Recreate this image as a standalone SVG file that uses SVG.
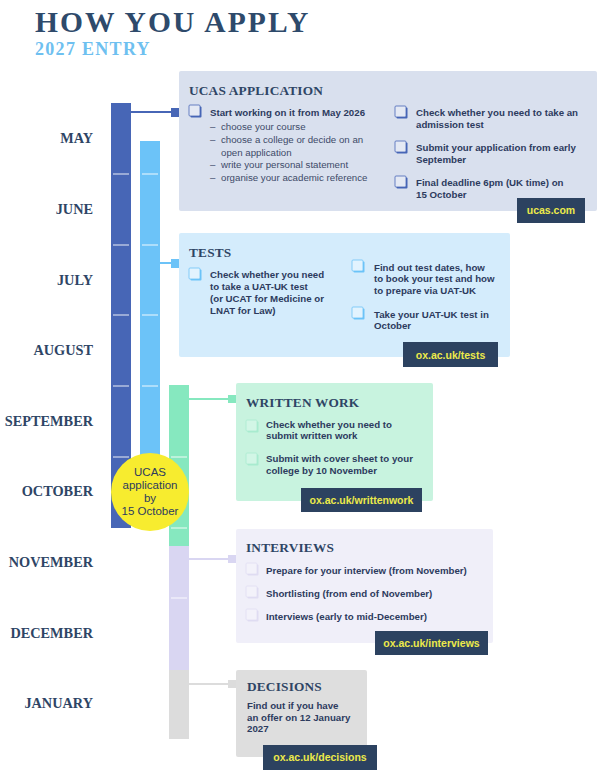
<svg xmlns="http://www.w3.org/2000/svg" width="602" height="777" viewBox="0 0 602 777">
<style>
.title{font-family:"Liberation Serif",serif;font-weight:bold;}
.month{font-family:"Liberation Serif",serif;font-weight:bold;font-size:14.3px;fill:#2e4565;text-anchor:end;}
.head{font-family:"Liberation Serif",serif;font-weight:bold;font-size:13.3px;fill:#2e4565;letter-spacing:0.2px;}
.b{font-family:"Liberation Sans",Arial,sans-serif;font-weight:bold;font-size:9.7px;fill:#2d3b5e;}
.r{font-family:"Liberation Sans",Arial,sans-serif;font-size:9.7px;fill:#3d4a68;}
.badge rect{fill:#2c4260;}
.badge text{font-family:"Liberation Sans",Arial,sans-serif;font-weight:bold;font-size:10.5px;fill:#ecea4a;text-anchor:middle;}
.tick{stroke:#ffffff;stroke-opacity:0.75;stroke-width:1.2;}
.circ{font-family:"Liberation Sans",Arial,sans-serif;font-size:11.5px;fill:#2d3b5e;text-anchor:middle;}
</style>

<g id="header">
<text class="title" x="35" y="32" font-size="29.5" fill="#2e4a6b" letter-spacing="2.1">HOW YOU APPLY</text>
<text class="title" x="35" y="55" font-size="18" fill="#6ec0f0" letter-spacing="1.3">2027 ENTRY</text>
</g>

<g id="months">
<text class="month" x="93" y="143">MAY</text>
<text class="month" x="93" y="214">JUNE</text>
<text class="month" x="93" y="285">JULY</text>
<text class="month" x="93" y="355">AUGUST</text>
<text class="month" x="93" y="426">SEPTEMBER</text>
<text class="month" x="93" y="496">OCTOBER</text>
<text class="month" x="93" y="567">NOVEMBER</text>
<text class="month" x="93" y="638">DECEMBER</text>
<text class="month" x="93" y="708">JANUARY</text>
</g>

<g id="bars">
<rect x="111" y="103" width="20" height="425" fill="#4766b6"/>
<rect x="140" y="141" width="20" height="350" fill="#6cc3f8"/>
<rect x="169" y="385" width="20" height="161" fill="#86e8bf"/>
<rect x="169" y="546" width="20" height="124" fill="#d9d6f2"/>
<rect x="169" y="670" width="20" height="69" fill="#dcdcdc"/>
<line class="tick" x1="113" y1="174" x2="129" y2="174"/>
<line class="tick" x1="113" y1="245" x2="129" y2="245"/>
<line class="tick" x1="113" y1="315" x2="129" y2="315"/>
<line class="tick" x1="113" y1="386" x2="129" y2="386"/>
<line class="tick" x1="113" y1="457" x2="129" y2="457"/>
<line class="tick" x1="142" y1="174" x2="158" y2="174"/>
<line class="tick" x1="142" y1="245" x2="158" y2="245"/>
<line class="tick" x1="142" y1="315" x2="158" y2="315"/>
<line class="tick" x1="142" y1="386" x2="158" y2="386"/>
<line class="tick" x1="171" y1="457" x2="187" y2="457"/>
<line class="tick" x1="171" y1="528" x2="187" y2="528"/>
<line class="tick" x1="171" y1="598" x2="187" y2="598"/>
</g>

<g id="connectors">
<line x1="131" y1="112" x2="172" y2="112" stroke="#4766b6" stroke-width="2"/>
<rect x="171" y="108" width="8" height="9" fill="#4766b6"/>
<line x1="160" y1="263" x2="172" y2="263" stroke="#6cc3f8" stroke-width="2"/>
<rect x="171" y="259" width="8" height="9" fill="#6cc3f8"/>
<line x1="189" y1="399" x2="229" y2="399" stroke="#86e8bf" stroke-width="2"/>
<rect x="228" y="395" width="8" height="8" fill="#86e8bf"/>
<line x1="189" y1="559" x2="229" y2="559" stroke="#d9d6f2" stroke-width="2"/>
<rect x="228" y="555" width="8" height="8" fill="#d9d6f2"/>
<line x1="189" y1="684" x2="229" y2="684" stroke="#dcdcdc" stroke-width="2"/>
<rect x="228" y="680" width="8" height="8" fill="#dcdcdc"/>
</g>

<g id="ucas">
<rect x="179" y="71" width="418" height="140" rx="2" fill="#d9e0ee"/>
<text class="head" x="189" y="95">UCAS APPLICATION</text>
<rect x="190.5" y="106.5" width="11" height="11" rx="1" fill="#4766b6"/>
<rect x="189" y="105" width="11" height="11" rx="1" fill="#e4e9f4" stroke="#4766b6" stroke-width="0.8"/>
<text class="b" x="210" y="116">Start working on it from May 2026</text>
<text class="r" x="210" y="130">–</text><text class="r" x="221" y="130">choose your course</text>
<text class="r" x="210" y="143">–</text><text class="r" x="221" y="143">choose a college or decide on an</text>
<text class="r" x="221" y="156">open application</text>
<text class="r" x="210" y="168">–</text><text class="r" x="221" y="168">write your personal statement</text>
<text class="r" x="210" y="181">–</text><text class="r" x="221" y="181">organise your academic reference</text>
<rect x="396.5" y="107.5" width="11" height="11" rx="1" fill="#4766b6"/>
<rect x="395" y="106" width="11" height="11" rx="1" fill="#e4e9f4" stroke="#4766b6" stroke-width="0.8"/>
<text class="b" x="416" y="116">Check whether you need to take an</text>
<text class="b" x="416" y="128">admission test</text>
<rect x="396.5" y="142.5" width="11" height="11" rx="1" fill="#4766b6"/>
<rect x="395" y="141" width="11" height="11" rx="1" fill="#e4e9f4" stroke="#4766b6" stroke-width="0.8"/>
<text class="b" x="416" y="151">Submit your application from early</text>
<text class="b" x="416" y="163">September</text>
<rect x="396.5" y="177.5" width="11" height="11" rx="1" fill="#4766b6"/>
<rect x="395" y="176" width="11" height="11" rx="1" fill="#e4e9f4" stroke="#4766b6" stroke-width="0.8"/>
<text class="b" x="416" y="186">Final deadline 6pm (UK time) on</text>
<text class="b" x="416" y="198">15 October</text>
<g class="badge"><rect x="517" y="198" width="68" height="25"/><text x="551" y="214">ucas.com</text></g>
</g>

<g id="tests">
<rect x="179" y="233" width="331" height="124" rx="2" fill="#d4ecfc"/>
<text class="head" x="189" y="257">TESTS</text>
<rect x="190.5" y="269.5" width="11" height="11" rx="1" fill="#6cc3f8"/>
<rect x="189" y="268" width="11" height="11" rx="1" fill="#e2f3fe" stroke="#6cc3f8" stroke-width="0.8"/>
<text class="b" x="210" y="278">Check whether you need</text>
<text class="b" x="210" y="290">to take a UAT-UK test</text>
<text class="b" x="210" y="302">(or UCAT for Medicine or</text>
<text class="b" x="210" y="314">LNAT for Law)</text>
<rect x="353.5" y="261.5" width="11" height="11" rx="1" fill="#6cc3f8"/>
<rect x="352" y="260" width="11" height="11" rx="1" fill="#e2f3fe" stroke="#6cc3f8" stroke-width="0.8"/>
<text class="b" x="374" y="271">Find out test dates, how</text>
<text class="b" x="374" y="282">to book your test and how</text>
<text class="b" x="374" y="294">to prepare via UAT-UK</text>
<rect x="353.5" y="308.5" width="11" height="11" rx="1" fill="#6cc3f8"/>
<rect x="352" y="307" width="11" height="11" rx="1" fill="#e2f3fe" stroke="#6cc3f8" stroke-width="0.8"/>
<text class="b" x="374" y="318">Take your UAT-UK test in</text>
<text class="b" x="374" y="329">October</text>
<g class="badge"><rect x="403" y="342" width="95" height="25"/><text x="450.5" y="359">ox.ac.uk/tests</text></g>
</g>

<g id="written-work">
<rect x="236" y="383" width="197" height="118" rx="2" fill="#c8f3df"/>
<text class="head" x="246" y="407">WRITTEN WORK</text>
<rect x="247.5" y="421.5" width="11" height="11" rx="1" fill="#a8ebcf"/>
<rect x="246" y="420" width="11" height="11" rx="1" fill="#d2f6e6" stroke="#a8ebcf" stroke-width="0.8"/>
<text class="b" x="266" y="428">Check whether you need to</text>
<text class="b" x="266" y="439">submit written work</text>
<rect x="247.5" y="454.5" width="11" height="11" rx="1" fill="#a8ebcf"/>
<rect x="246" y="453" width="11" height="11" rx="1" fill="#d2f6e6" stroke="#a8ebcf" stroke-width="0.8"/>
<text class="b" x="266" y="462">Submit with cover sheet to your</text>
<text class="b" x="266" y="474">college by 10 November</text>
<g class="badge"><rect x="301" y="488" width="121" height="24"/><text x="361.5" y="504">ox.ac.uk/writtenwork</text></g>
</g>

<g id="interviews">
<rect x="236" y="529" width="257" height="114" rx="2" fill="#f0eff9"/>
<text class="head" x="246" y="552">INTERVIEWS</text>
<rect x="247.5" y="564.5" width="11" height="11" rx="1" fill="#e0ddf2"/>
<rect x="246" y="563" width="11" height="11" rx="1" fill="#f3f2fa" stroke="#e0ddf2" stroke-width="0.8"/>
<text class="b" x="266" y="574">Prepare for your interview (from November)</text>
<rect x="247.5" y="587.5" width="11" height="11" rx="1" fill="#e0ddf2"/>
<rect x="246" y="586" width="11" height="11" rx="1" fill="#f3f2fa" stroke="#e0ddf2" stroke-width="0.8"/>
<text class="b" x="266" y="597">Shortlisting (from end of November)</text>
<rect x="247.5" y="610.5" width="11" height="11" rx="1" fill="#e0ddf2"/>
<rect x="246" y="609" width="11" height="11" rx="1" fill="#f3f2fa" stroke="#e0ddf2" stroke-width="0.8"/>
<text class="b" x="266" y="620">Interviews (early to mid-December)</text>
<g class="badge"><rect x="375" y="631" width="113" height="24"/><text x="431.5" y="647">ox.ac.uk/interviews</text></g>
</g>

<g id="decisions">
<rect x="236" y="670" width="131" height="87" rx="2" fill="#dedede"/>
<text class="head" x="247" y="691">DECISIONS</text>
<text class="b" x="247" y="709">Find out if you have</text>
<text class="b" x="247" y="721">an offer on 12 January</text>
<text class="b" x="247" y="732">2027</text>
<g class="badge"><rect x="263" y="745" width="114" height="25"/><text x="320" y="761">ox.ac.uk/decisions</text></g>
</g>

<g id="ucas-deadline">
<circle cx="150" cy="492" r="39" fill="#f7ec2f"/>
<text class="circ" x="150" y="476">UCAS</text>
<text class="circ" x="150" y="489">application</text>
<text class="circ" x="150" y="502">by</text>
<text class="circ" x="150" y="515">15 October</text>
</g>
</svg>
